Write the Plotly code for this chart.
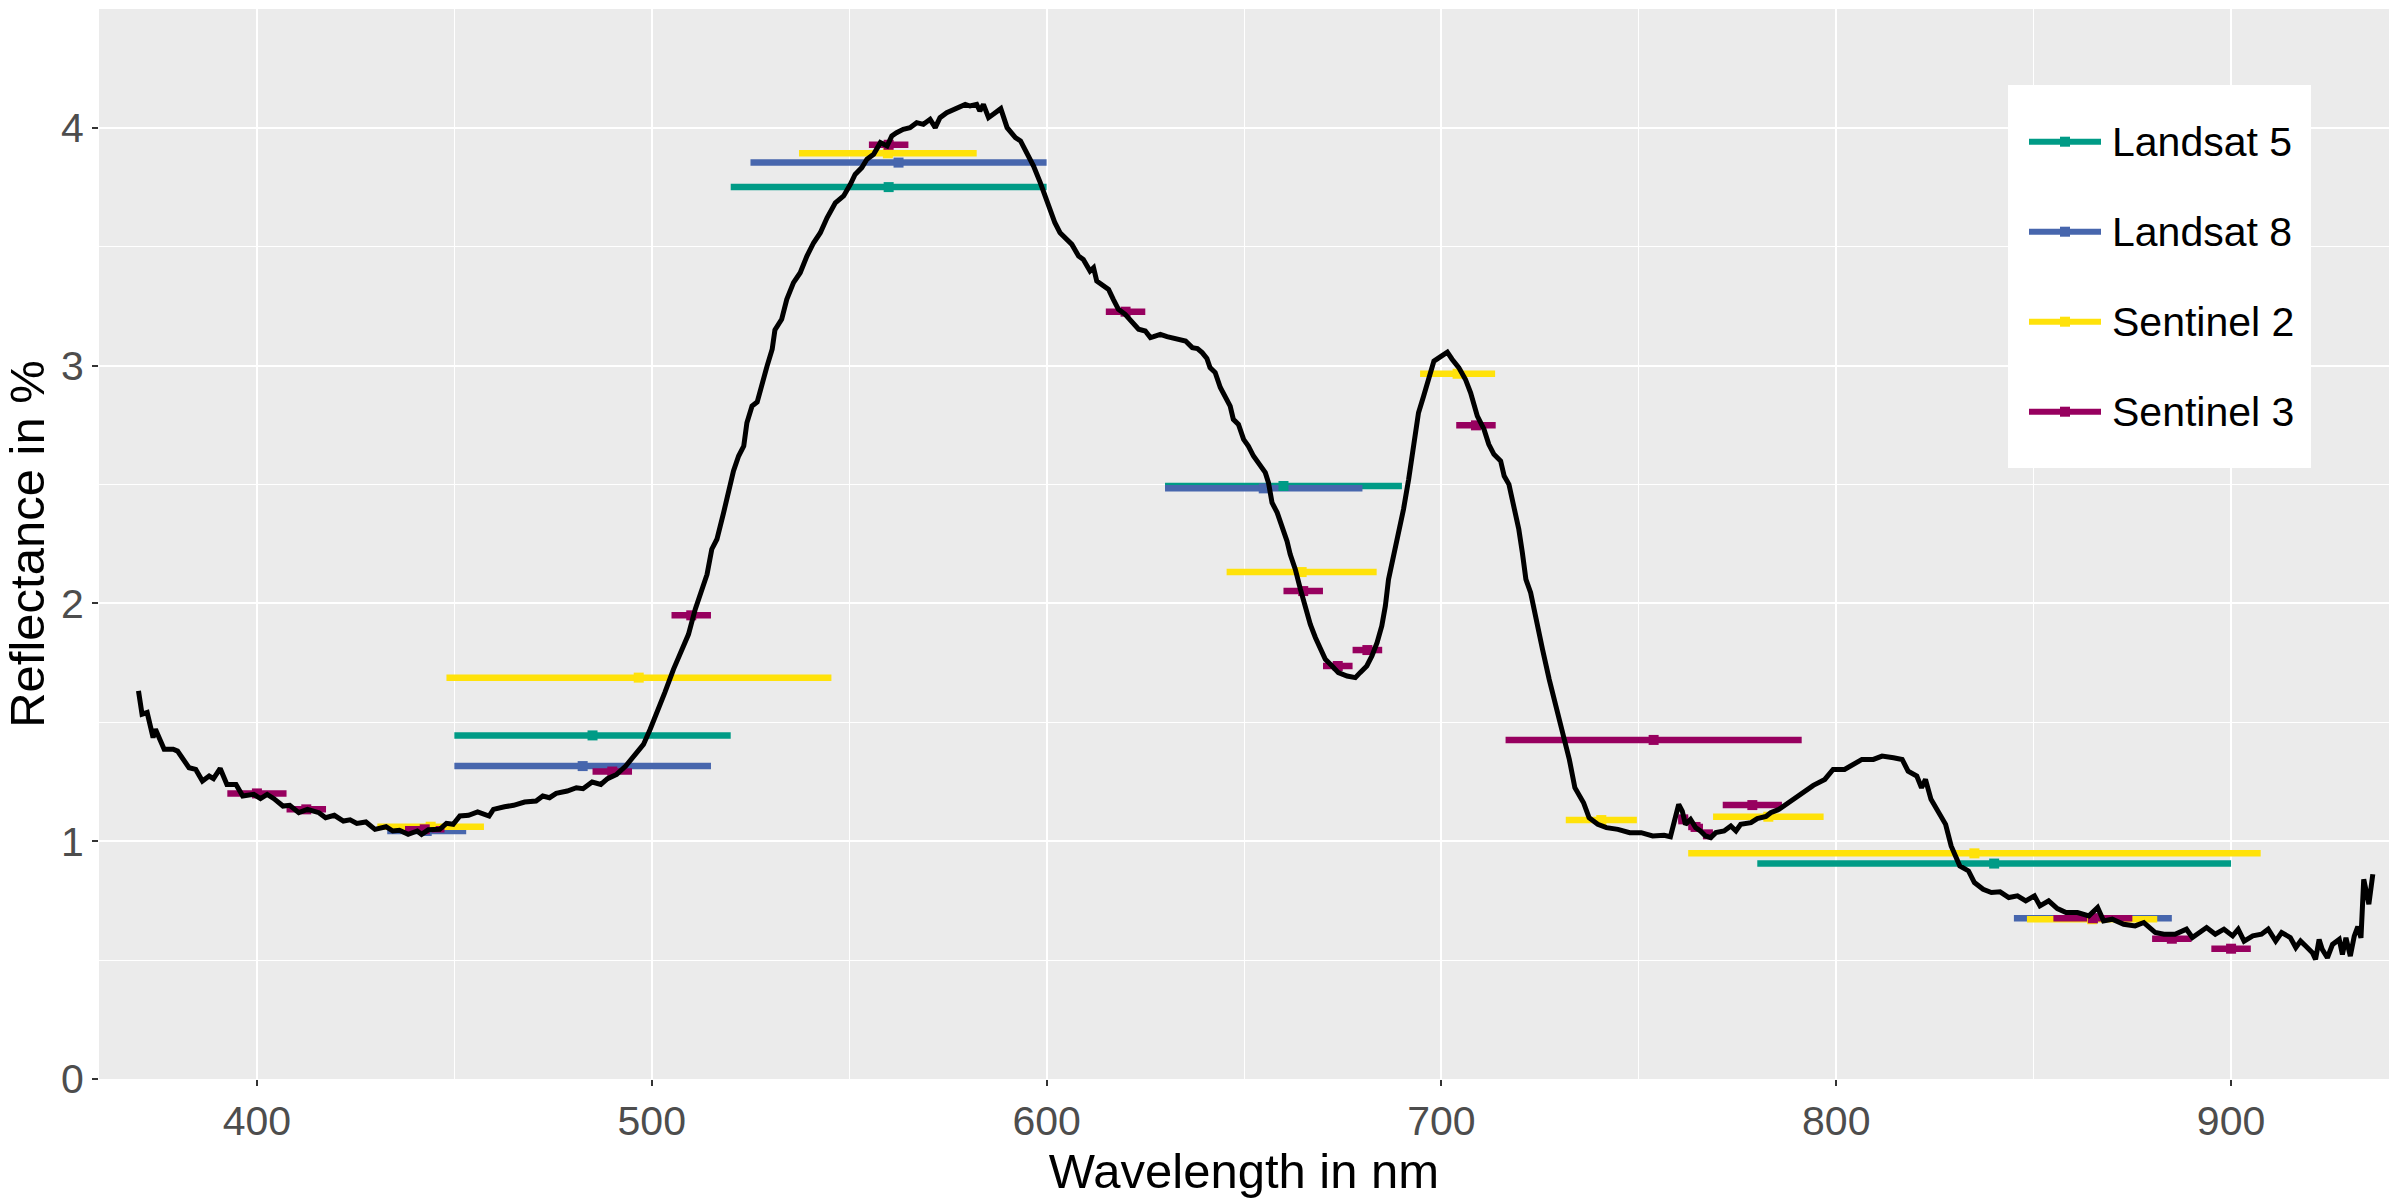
import plotly.graph_objects as go

# ---------------- data ----------------
wavelength = [
    370.0, 370.9, 372.2, 373.7, 374.3, 376.5, 378.8, 379.9, 382.8, 384.5, 386.2, 387.9, 389.0, 390.7,
    392.4, 394.7, 396.4, 399.2, 400.9, 402.6, 404.3, 406.6, 408.3, 410.6, 412.8, 415.7, 417.4, 419.6,
    421.9, 423.6, 425.3, 427.6, 429.9, 432.7, 434.4, 436.1, 438.3, 440.6, 441.7, 443.4, 446.3, 448.0,
    449.7, 451.4, 453.6, 455.9, 458.8, 459.9, 462.7, 465.0, 467.8, 470.7, 472.4, 474.1, 475.8, 478.6,
    480.9, 482.6, 484.9, 487.1, 488.8, 491.1, 493.4, 495.6, 497.9, 499.6, 501.0, 503.3, 505.5, 507.6,
    509.3, 511.0, 512.7, 514.0, 515.2, 516.5, 518.2, 519.9, 520.7, 522.0, 523.3, 524.1, 525.4, 526.7,
    527.9, 529.2, 530.5, 531.2, 532.9, 534.2, 535.9, 537.6, 539.3, 541.0, 542.7, 544.4, 546.5, 548.6,
    550.3, 551.5, 553.2, 554.5, 556.2, 557.9, 559.6, 560.8, 562.0, 563.7, 565.4, 567.1, 568.8, 570.5,
    571.8, 573.0, 574.7, 576.4, 578.1, 579.4, 580.6, 582.3, 583.1, 584.0, 585.3, 586.5, 588.4, 590.0,
    592.1, 593.4, 595.0, 596.7, 598.4, 599.7, 600.9, 602.1, 603.4, 605.1, 606.4, 608.1, 609.3, 611.0,
    611.9, 612.7, 614.4, 615.7, 616.9, 618.2, 619.9, 621.6, 623.3, 625.0, 626.3, 627.1, 628.8, 630.5,
    633.0, 635.2, 636.9, 638.2, 639.4, 640.6, 641.4, 642.7, 644.0, 645.2, 646.5, 647.3, 648.6, 649.9,
    651.1, 652.4, 653.7, 655.4, 656.2, 657.1, 658.4, 659.6, 660.9, 661.7, 663.0, 664.3, 665.6, 666.8,
    668.1, 669.4, 670.6, 672.3, 673.9, 676.1, 678.2, 679.4, 681.1, 682.4, 683.7, 684.9, 685.8, 686.6,
    687.9, 689.2, 690.4, 691.7, 693.0, 694.2, 695.5, 696.8, 698.1, 699.8, 701.5, 702.7, 704.4, 706.1,
    707.4, 709.1, 710.8, 712.0, 713.3, 715.0, 715.9, 717.1, 718.4, 719.6, 720.5, 721.4, 722.6, 723.9,
    725.6, 727.3, 729.0, 730.7, 732.4, 733.8, 736.0, 737.4, 739.6, 741.8, 744.7, 747.7, 750.6, 753.5,
    756.4, 758.0, 758.9, 760.1, 761.0, 761.8, 763.1, 764.4, 765.6, 766.9, 768.2, 769.5, 771.6, 773.3,
    774.6, 775.8, 778.4, 780.0, 782.2, 783.4, 785.5, 788.4, 791.3, 794.2, 797.1, 799.2, 802.1, 804.3,
    806.5, 809.4, 811.6, 814.5, 816.7, 818.2, 820.4, 821.6, 822.6, 824.0, 825.5, 827.7, 829.1, 831.3,
    833.5, 835.0, 837.2, 839.3, 841.5, 843.7, 845.9, 848.0, 850.2, 851.6, 853.8, 856.0, 858.2, 861.1,
    864.0, 866.2, 867.7, 869.9, 872.8, 875.7, 877.9, 880.8, 883.0, 885.8, 888.7, 890.2, 893.8, 896.0,
    898.2, 900.4, 901.8, 903.3, 905.5, 907.7, 909.4, 911.3, 912.8, 915.0, 916.4, 917.6, 918.9, 920.6,
    921.4, 922.3, 923.1, 924.4, 925.7, 927.4, 928.2, 929.1, 930.2, 931.2, 932.1, 932.9, 933.6, 934.9,
    935.9,
]
reflectance = [
    1.632, 1.534, 1.541, 1.436, 1.471, 1.387, 1.387, 1.379, 1.309, 1.302, 1.253, 1.274, 1.263, 1.306,
    1.239, 1.239, 1.190, 1.197, 1.179, 1.197, 1.179, 1.148, 1.151, 1.120, 1.134, 1.120, 1.099, 1.109,
    1.085, 1.090, 1.075, 1.081, 1.050, 1.061, 1.043, 1.046, 1.029, 1.043, 1.029, 1.048, 1.050, 1.075,
    1.071, 1.106, 1.109, 1.123, 1.106, 1.134, 1.145, 1.151, 1.165, 1.169, 1.190, 1.183, 1.201, 1.211,
    1.225, 1.221, 1.249, 1.239, 1.263, 1.281, 1.316, 1.358, 1.407, 1.471, 1.527, 1.625, 1.723, 1.800,
    1.870, 1.975, 2.066, 2.122, 2.228, 2.270, 2.382, 2.508, 2.557, 2.620, 2.662, 2.760, 2.830, 2.847,
    2.928, 2.998, 3.069, 3.150, 3.195, 3.279, 3.349, 3.391, 3.461, 3.517, 3.559, 3.622, 3.685, 3.714,
    3.763, 3.804, 3.833, 3.868, 3.889, 3.938, 3.924, 3.966, 3.980, 3.994, 4.001, 4.022, 4.015, 4.036,
    4.001, 4.043, 4.064, 4.078, 4.089, 4.099, 4.092, 4.099, 4.071, 4.099, 4.043, 4.057, 4.081, 4.001,
    3.959, 3.945, 3.896, 3.839, 3.770, 3.713, 3.657, 3.601, 3.559, 3.531, 3.510, 3.461, 3.447, 3.398,
    3.412, 3.356, 3.335, 3.321, 3.279, 3.237, 3.216, 3.188, 3.153, 3.146, 3.118, 3.122, 3.132, 3.122,
    3.113, 3.104, 3.076, 3.072, 3.055, 3.030, 2.992, 2.971, 2.908, 2.872, 2.830, 2.774, 2.753, 2.690,
    2.662, 2.620, 2.592, 2.550, 2.508, 2.424, 2.382, 2.325, 2.262, 2.207, 2.143, 2.059, 1.975, 1.912,
    1.856, 1.807, 1.765, 1.737, 1.709, 1.695, 1.688, 1.709, 1.737, 1.779, 1.835, 1.905, 1.989, 2.101,
    2.199, 2.298, 2.396, 2.522, 2.662, 2.802, 2.872, 2.942, 3.019, 3.038, 3.057, 3.027, 2.992, 2.942,
    2.886, 2.788, 2.732, 2.669, 2.627, 2.599, 2.536, 2.501, 2.410, 2.312, 2.214, 2.101, 2.045, 1.933,
    1.807, 1.681, 1.569, 1.471, 1.344, 1.225, 1.162, 1.099, 1.071, 1.057, 1.050, 1.036, 1.036, 1.022,
    1.025, 1.019, 1.078, 1.155, 1.127, 1.071, 1.092, 1.057, 1.043, 1.022, 1.015, 1.036, 1.043, 1.064,
    1.043, 1.071, 1.078, 1.095, 1.104, 1.120, 1.134, 1.169, 1.204, 1.235, 1.260, 1.302, 1.302, 1.323,
    1.344, 1.344, 1.358, 1.351, 1.344, 1.295, 1.274, 1.225, 1.260, 1.176, 1.134, 1.071, 0.980, 0.896,
    0.875, 0.826, 0.798, 0.784, 0.787, 0.763, 0.770, 0.749, 0.770, 0.728, 0.749, 0.717, 0.700, 0.700,
    0.686, 0.721, 0.665, 0.672, 0.651, 0.644, 0.658, 0.616, 0.609, 0.609, 0.630, 0.595, 0.637, 0.609,
    0.630, 0.602, 0.630, 0.580, 0.602, 0.609, 0.630, 0.580, 0.616, 0.595, 0.553, 0.580, 0.559, 0.531,
    0.503, 0.587, 0.545, 0.510, 0.566, 0.587, 0.524, 0.594, 0.517, 0.601, 0.641, 0.594, 0.840, 0.735,
    0.861,
]

# band lower / upper wavelength, centre and band reflectance for each sensor
l5_lo = [450, 520, 630, 780]
l5_hi = [520, 600, 690, 900]
l5_center = [485, 560, 660, 840]
l5_refl = [1.445, 3.751, 2.494, 0.906]

l8_lo = [433, 450, 525, 630, 845]
l8_hi = [453, 515, 600, 680, 885]
l8_center = [443, 482.5, 562.5, 655, 865]
l8_refl = [1.043, 1.316, 3.854, 2.484, 0.676]

s2_lo = [430.5, 448, 537.3, 645.6, 694.6, 731.5, 768.8, 762.5, 848.3]
s2_hi = [457.5, 545.5, 582.3, 683.6, 713.6, 749.5, 796.8, 907.5, 881.3]
s2_center = [444, 496.7, 559.8, 664.6, 704.1, 740.5, 782.8, 835, 864.8]
s2_refl = [1.061, 1.688, 3.893, 2.132, 2.966, 1.089, 1.103, 0.949, 0.672]

s3_lo = [392.5, 407.5, 437.5, 485, 505, 555, 615, 660, 670, 677.5, 703.75, 716.25, 760, 762.5, 766.25, 771.25, 855, 880, 895]
s3_hi = [407.5, 417.5, 447.5, 495, 515, 565, 625, 670, 677.5, 685, 713.75, 791.25, 762.5, 766.25, 768.75, 786.25, 875, 890, 905]
s3_center = [400, 412.5, 442.5, 490, 510, 560, 620, 665, 673.75, 681.25, 708.75, 753.75, 761.25, 764.375, 767.5, 778.75, 865, 885, 900]
s3_refl = [1.201, 1.134, 1.050, 1.293, 1.950, 3.929, 3.227, 2.052, 1.737, 1.804, 2.749, 1.426, 1.092, 1.060, 1.029, 1.152, 0.676, 0.590, 0.548]

sensor_names = ["Landsat 5", "Landsat 8", "Sentinel 2", "Sentinel 3"]
sensor_colors = ["#009B86", "#4766AD", "#FFE20A", "#97005F"]

x_ticks = [400, 500, 600, 700, 800, 900]
y_ticks = [0, 1, 2, 3, 4]

# ---------------- figure ----------------
W, H = 2398, 1198
ML, MR, MT, MB = 99, 9, 9, 119
FONT = "Liberation Sans, Arial, Helvetica, sans-serif"

sensors = [
    (l5_lo, l5_hi, l5_center, l5_refl),
    (l8_lo, l8_hi, l8_center, l8_refl),
    (s2_lo, s2_hi, s2_center, s2_refl),
    (s3_lo, s3_hi, s3_center, s3_refl),
]

fig = go.Figure()

# horizontal band bars
for (lo, hi, cen, refl), name, col in zip(sensors, sensor_names, sensor_colors):
    xs, ys = [], []
    for a, b, v in zip(lo, hi, refl):
        xs += [a, b, None]
        ys += [v, v, None]
    fig.add_trace(go.Scatter(x=xs, y=ys, mode="lines", name=name,
                             line=dict(color=col, width=6.5), showlegend=False,
                             hoverinfo="skip"))

# band centre points
for (lo, hi, cen, refl), name, col in zip(sensors, sensor_names, sensor_colors):
    fig.add_trace(go.Scatter(x=cen, y=refl, mode="markers", name=name,
                             marker=dict(symbol="square", size=10, color=col,
                                         line=dict(width=0)),
                             showlegend=False))

# reflectance spectrum
fig.add_trace(go.Scatter(x=wavelength, y=reflectance, mode="lines", name="Spectrum",
                         line=dict(color="black", width=5), showlegend=False))

# ---------------- custom legend (layout only) ----------------
PW = W - ML - MR
PH = H - MT - MB


def px_x(X):
    return (X - ML) / PW


def px_y(Y):
    return (H - MB - Y) / PH


shapes = [dict(type="rect", xref="paper", yref="paper",
               x0=px_x(2008), x1=px_x(2311), y0=px_y(468), y1=px_y(85),
               fillcolor="white", line=dict(width=0), layer="above")]
annotations = []
for i, (name, col) in enumerate(zip(sensor_names, sensor_colors)):
    yc = 141.7 + 90 * i
    shapes.append(dict(type="line", xref="paper", yref="paper",
                       x0=px_x(2029), x1=px_x(2101), y0=px_y(yc), y1=px_y(yc),
                       line=dict(color=col, width=6), layer="above"))
    shapes.append(dict(type="rect", xref="paper", yref="paper",
                       x0=px_x(2060), x1=px_x(2070), y0=px_y(yc + 5), y1=px_y(yc - 5),
                       fillcolor=col, line=dict(width=0), layer="above"))
    annotations.append(dict(text=name, xref="paper", yref="paper",
                            x=px_x(2110), y=px_y(yc), xanchor="left", yanchor="middle",
                            showarrow=False, font=dict(family=FONT, size=41, color="black")))

fig.update_layout(
    width=W, height=H,
    margin=dict(l=ML, r=MR, t=MT, b=MB, pad=0),
    paper_bgcolor="white",
    plot_bgcolor="#EBEBEB",
    font=dict(family=FONT, color="#4D4D4D"),
    showlegend=False,
    shapes=shapes,
    annotations=annotations,
    xaxis=dict(
        range=[360, 940], tickvals=x_ticks, ticktext=[str(v) for v in x_ticks],
        showgrid=True, gridcolor="white", gridwidth=2.2, zeroline=False,
        minor=dict(tickvals=[350, 450, 550, 650, 750, 850, 950], showgrid=True,
                   gridcolor="white", gridwidth=1.1),
        ticks="outside", ticklen=6, tickwidth=2, tickcolor="#333333",
        tickfont=dict(family=FONT, size=41, color="#4D4D4D"),
        title=dict(text="Wavelength in nm", font=dict(family=FONT, size=49, color="black"),
                   standoff=14),
        showline=False, automargin=False,
    ),
    yaxis=dict(
        range=[0, 4.5], tickvals=y_ticks, ticktext=[str(v) for v in y_ticks],
        showgrid=True, gridcolor="white", gridwidth=2.2, zeroline=False,
        minor=dict(tickvals=[0.5, 1.5, 2.5, 3.5, 4.5], showgrid=True,
                   gridcolor="white", gridwidth=1.1),
        ticks="outside", ticklen=6, tickwidth=2, tickcolor="#333333",
        tickfont=dict(family=FONT, size=41, color="#4D4D4D"),
        title=dict(text="Reflectance in %", font=dict(family=FONT, size=49, color="black"),
                   standoff=14),
        showline=False, automargin=False,
    ),
)

fig.write_html("out.html")
